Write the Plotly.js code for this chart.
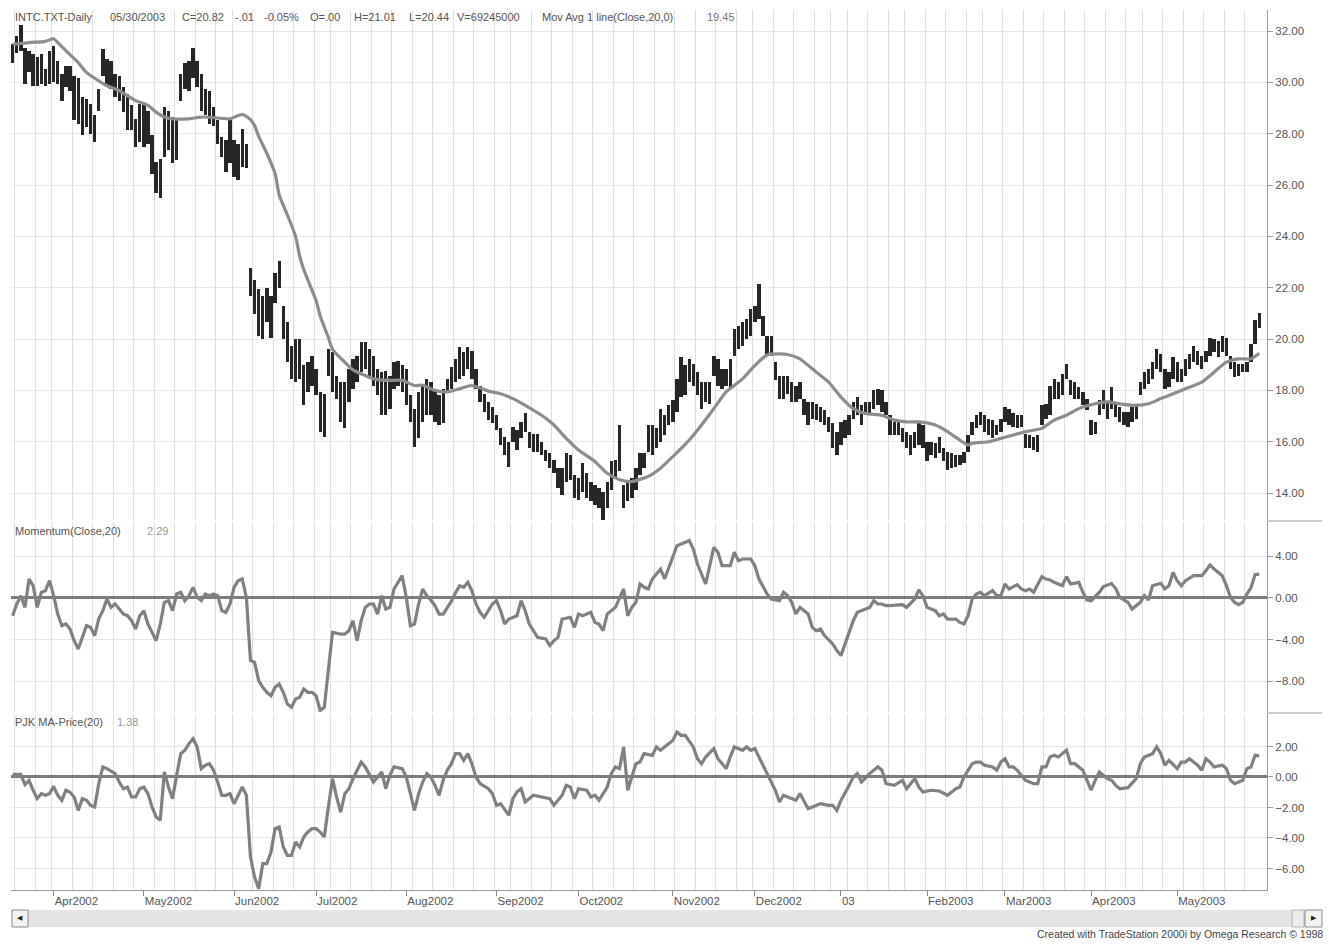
<!DOCTYPE html>
<html>
<head>
<meta charset="utf-8">
<script src="https://cdn.plot.ly/plotly-3.0.1.min.js"></script>
<style>
  html, body { margin: 0; padding: 0; background: #ffffff; }
  #chart { width: 1329px; height: 946px; }
</style>
</head>
<body>
<div id="chart"></div>
<script>
// ---------------- DATA ----------------
// Daily bars INTC, 15 Mar 2002 .. 30 May 2003 (trading day index 0..304)
const highs = [
  31.48, 31.81, 32.25, 31.35, 31.23, 31.10, 30.97, 31.10, 30.52, 31.23,
  31.42, 30.84, 30.32, 30.65, 30.65, 30.26, 30.19, 29.42, 29.35, 29.16,
  28.71, 29.74, 31.29, 30.90, 30.84, 30.32, 30.26, 29.81, 29.55, 29.10,
  28.58, 29.16, 29.10, 28.90, 27.94, 26.90, 27.03, 29.03, 28.90, 28.65,
  28.58, 30.32, 30.77, 30.84, 31.35, 30.84, 30.32, 29.74, 29.68, 29.03,
  28.52, 27.87, 27.74, 28.52, 27.74, 27.61, 28.19, 27.61, 22.77, 22.32,
  21.94, 21.68, 22.00, 21.68, 22.58, 23.03, 21.29, 20.65, 19.74, 20.00,
  20.00, 18.97, 19.10, 19.35, 18.84, 17.94, 17.87, 19.61, 19.48, 18.58,
  18.32, 18.32, 18.84, 19.23, 19.35, 19.87, 19.87, 19.61, 19.35, 18.84,
  18.71, 18.77, 18.58, 19.10, 19.16, 18.97, 18.84, 17.81, 17.29, 17.94,
  18.19, 18.45, 18.32, 18.06, 17.81, 18.06, 18.45, 18.90, 19.23, 19.68,
  19.48, 19.68, 19.55, 18.84, 18.19, 17.87, 17.55, 17.35, 17.03, 16.52,
  16.19, 16.00, 16.58, 16.45, 16.77, 17.10, 16.39, 16.32, 16.32, 16.00,
  15.68, 15.55, 15.29, 14.97, 14.97, 15.55, 15.48, 14.71, 14.58, 15.16,
  14.77, 14.45, 14.32, 14.19, 14.06, 14.45, 15.23, 15.29, 16.65, 14.32,
  14.45, 14.58, 14.97, 15.55, 15.55, 16.65, 16.65, 16.52, 17.29, 17.03,
  17.42, 17.61, 18.45, 19.29, 18.97, 19.23, 19.03, 18.71, 18.32, 18.32,
  18.32, 19.35, 19.23, 18.84, 18.84, 19.23, 20.39, 20.52, 20.65, 20.77,
  21.16, 21.29, 22.13, 20.90, 20.13, 20.13, 19.10, 18.58, 18.58, 18.58,
  18.32, 18.19, 18.32, 17.68, 17.55, 17.55, 17.48, 17.35, 17.23, 16.97,
  16.71, 16.39, 16.77, 16.84, 17.03, 17.55, 17.74, 17.42, 17.55, 17.55,
  18.00, 18.06, 18.00, 17.55, 17.03, 16.77, 16.77, 16.52, 16.39, 16.26,
  16.39, 16.77, 16.65, 16.00, 16.00, 15.94, 16.19, 15.74, 15.61, 15.55,
  15.48, 15.48, 15.61, 16.26, 16.77, 17.03, 17.16, 17.03, 16.90, 16.84,
  16.65, 16.90, 17.35, 17.29, 17.10, 17.03, 17.03, 16.32, 16.26, 16.19,
  16.26, 17.42, 17.48, 18.19, 18.45, 18.32, 18.65, 19.03, 18.39, 18.32,
  18.13, 17.94, 17.68, 16.84, 16.77, 17.61, 18.00, 17.55, 18.13, 17.48,
  17.35, 17.16, 17.16, 17.35, 17.42, 18.32, 18.71, 18.84, 19.10, 19.61,
  19.42, 18.84, 18.71, 19.29, 19.10, 18.84, 19.23, 19.42, 19.74, 19.55,
  19.35, 19.55, 20.06, 20.00, 19.94, 20.13, 20.06, 19.35, 19.10, 19.03,
  19.03, 19.10, 19.81, 20.75, 21.01
];
const lows = [
  30.77, 31.16, 31.23, 29.94, 30.39, 29.87, 29.87, 29.94, 29.87, 29.94,
  30.00, 29.94, 29.29, 29.81, 29.68, 28.52, 28.39, 27.94, 28.26, 28.00,
  27.68, 28.90, 30.26, 29.87, 29.74, 29.42, 29.29, 28.84, 28.13, 28.13,
  27.48, 27.68, 27.48, 27.61, 26.45, 25.68, 25.48, 27.10, 27.35, 26.84,
  26.97, 29.29, 29.74, 29.68, 30.19, 29.81, 28.90, 28.71, 28.39, 28.32,
  27.61, 27.10, 26.52, 26.84, 26.32, 26.19, 26.71, 26.65, 21.68, 20.97,
  20.13, 20.00, 20.65, 20.06, 21.42, 22.00, 20.00, 19.10, 18.45, 18.32,
  18.45, 17.42, 17.94, 18.19, 17.81, 16.39, 16.19, 18.58, 17.94, 17.68,
  16.77, 16.52, 17.55, 18.06, 18.32, 18.71, 18.84, 18.58, 18.19, 17.81,
  17.03, 17.03, 17.29, 18.06, 18.19, 17.94, 17.42, 16.77, 15.81, 16.13,
  16.77, 17.03, 17.03, 16.77, 16.65, 16.71, 17.94, 18.06, 18.32, 18.45,
  18.58, 18.84, 18.45, 18.06, 17.55, 17.16, 16.84, 16.71, 16.45, 15.87,
  15.48, 15.03, 16.00, 15.68, 16.13, 16.39, 15.74, 15.61, 15.61, 15.48,
  15.23, 14.97, 14.77, 14.19, 13.94, 14.45, 14.52, 13.81, 13.74, 14.06,
  13.81, 13.68, 13.55, 13.42, 12.95, 13.42, 14.13, 14.58, 14.84, 13.42,
  13.68, 13.81, 14.13, 14.71, 14.97, 15.61, 15.48, 15.74, 16.00, 16.26,
  16.65, 16.77, 17.16, 17.74, 17.81, 18.32, 18.19, 17.81, 17.29, 17.55,
  17.48, 18.58, 18.19, 18.06, 18.19, 18.06, 19.35, 19.61, 19.74, 20.00,
  20.13, 20.65, 20.77, 20.13, 19.35, 19.35, 18.39, 17.68, 17.68, 17.87,
  17.55, 17.55, 17.68, 17.03, 16.65, 16.90, 16.84, 16.77, 16.65, 16.39,
  15.74, 15.48, 15.87, 16.13, 16.26, 16.90, 17.03, 16.65, 17.03, 17.03,
  17.29, 17.42, 17.16, 17.03, 16.26, 16.26, 16.26, 16.00, 15.74, 15.48,
  15.74, 15.87, 15.74, 15.23, 15.48, 15.35, 15.55, 15.23, 14.90, 14.97,
  15.03, 15.10, 15.16, 15.61, 16.26, 16.52, 16.65, 16.39, 16.26, 16.13,
  16.26, 16.39, 16.77, 16.65, 16.58, 16.52, 16.58, 15.74, 15.74, 15.68,
  15.61, 16.65, 16.90, 17.03, 17.68, 17.68, 17.81, 18.45, 17.81, 17.68,
  17.68, 17.42, 17.23, 16.26, 16.32, 17.03, 17.29, 16.90, 17.29, 16.97,
  16.77, 16.65, 16.58, 16.77, 16.90, 17.81, 18.06, 18.26, 18.45, 18.84,
  18.71, 18.06, 18.13, 18.45, 18.32, 18.32, 18.58, 18.84, 19.10, 18.97,
  18.84, 19.10, 19.35, 19.48, 19.29, 19.48, 19.35, 18.84, 18.52, 18.58,
  18.71, 18.71, 19.10, 19.80, 20.44
];

// Mov Avg 1 line (Close,20): trading-day index / value
const maDay = [0, 4, 8, 10, 11, 13, 16, 18, 21, 23, 26, 28, 30, 33, 35, 37, 39, 43, 46, 51, 53, 56, 58, 59, 60, 62, 64, 65, 67, 69, 70, 71, 72, 74, 75, 77, 78, 81, 83, 86, 88, 91, 95, 98, 100, 103, 106, 109, 112, 116, 119, 122, 125, 129, 132, 135, 138, 142, 145, 148, 151, 155, 158, 161, 165, 168, 171, 174, 178, 181, 184, 187, 189, 192, 195, 199, 202, 205, 208, 212, 215, 218, 221, 225, 228, 231, 233, 234, 238, 241, 244, 247, 251, 254, 257, 260, 264, 267, 270, 273, 277, 280, 283, 286, 290, 293, 296, 299, 302, 304];
const maVal = [31.48, 31.55, 31.60, 31.70, 31.55, 31.23, 30.77, 30.39, 30.06, 29.87, 29.68, 29.48, 29.29, 29.10, 28.84, 28.65, 28.58, 28.58, 28.65, 28.60, 28.58, 28.75, 28.55, 28.32, 27.90, 27.23, 26.45, 25.61, 24.84, 24.00, 23.23, 22.70, 22.30, 21.50, 20.90, 20.06, 19.60, 19.10, 18.80, 18.58, 18.45, 18.39, 18.39, 18.19, 18.20, 18.00, 17.94, 18.06, 18.19, 17.97, 17.87, 17.68, 17.42, 17.03, 16.65, 16.13, 15.68, 15.23, 14.77, 14.52, 14.45, 14.65, 14.97, 15.42, 16.06, 16.65, 17.29, 17.94, 18.45, 18.97, 19.38, 19.42, 19.40, 19.23, 18.84, 18.32, 17.74, 17.29, 17.10, 17.03, 16.84, 16.77, 16.77, 16.65, 16.39, 16.06, 15.87, 15.94, 16.00, 16.13, 16.26, 16.39, 16.52, 16.84, 17.03, 17.29, 17.48, 17.55, 17.48, 17.42, 17.48, 17.68, 17.87, 18.06, 18.32, 18.71, 19.10, 19.23, 19.23, 19.45];

// Momentum(Close,20)
const momDay = [0, 1, 2, 3, 4, 5, 6, 7, 8, 9, 10, 11, 12, 13, 14, 15, 16, 17, 18, 19, 20, 21, 22, 23, 24, 25, 27, 28, 29, 30, 31, 32, 33, 34, 35, 36, 37, 38, 39, 40, 41, 42, 43, 44, 45, 46, 47, 48, 49, 50, 51, 52, 53, 54, 55, 56, 57, 58, 59, 60, 61, 62, 63, 64, 65, 66, 67, 68, 69, 70, 71, 72, 73, 74, 75, 76, 77, 78, 80, 81, 82, 83, 84, 85, 86, 87, 88, 89, 90, 91, 92, 93, 95, 96, 97, 98, 99, 100, 101, 102, 103, 104, 105, 106, 107, 108, 109, 110, 111, 112, 113, 114, 115, 117, 118, 119, 120, 121, 123, 124, 125, 126, 127, 128, 130, 131, 132, 133, 134, 136, 137, 138, 139, 141, 142, 143, 144, 145, 147, 148, 149, 150, 151, 152, 153, 154, 155, 156, 158, 159, 160, 161, 162, 163, 165, 166, 167, 169, 170, 171, 172, 173, 175, 176, 177, 178, 180, 181, 182, 184, 185, 187, 188, 189, 190, 191, 192, 194, 195, 196, 197, 198, 200, 201, 202, 203, 204, 205, 206, 208, 209, 210, 211, 212, 213, 214, 216, 217, 218, 220, 221, 222, 223, 225, 226, 227, 228, 230, 231, 232, 233, 234, 235, 236, 237, 239, 240, 241, 242, 243, 245, 246, 247, 248, 249, 251, 252, 253, 254, 256, 257, 258, 260, 261, 262, 263, 265, 266, 268, 269, 270, 272, 273, 275, 276, 277, 278, 280, 281, 282, 283, 284, 285, 286, 288, 290, 291, 292, 293, 295, 296, 297, 298, 299, 300, 301, 302, 303, 304];
const momVal = [-1.70, -0.58, 0.22, -0.90, 1.82, 1.18, -0.90, 0.54, 0.70, 1.66, 0.22, -1.54, -2.66, -2.50, -2.98, -4.10, -4.90, -3.78, -2.66, -2.82, -3.62, -2.00, -1.22, -0.10, -0.90, -0.58, -1.54, -1.70, -2.18, -2.98, -1.70, -1.22, -2.50, -3.30, -4.10, -2.50, -0.42, -0.26, -1.22, 0.38, 0.54, -0.26, 0.22, 1.02, 0.06, -0.26, 0.38, 0.22, 0.38, 0.22, -1.22, -1.38, -0.58, 1.02, 1.66, 1.82, 0.06, -6.00, -6.17, -7.93, -8.57, -9.05, -9.37, -8.57, -8.25, -9.05, -10.17, -10.49, -9.69, -9.53, -8.73, -9.05, -9.05, -9.37, -10.80, -10.49, -6.65, -3.30, -3.46, -3.46, -3.14, -2.18, -4.10, -2.18, -0.90, -0.58, -0.58, -1.54, 0.22, -1.06, -0.90, 0.86, 2.14, 0.06, -2.66, -2.50, -0.58, 0.86, 0.22, -0.20, -0.74, -1.54, -1.54, -0.90, -0.30, 0.50, 1.18, 1.02, 1.50, 0.70, -0.58, -1.38, -1.86, -0.58, -0.26, -1.22, -2.50, -2.02, -1.70, -0.26, -1.22, -2.50, -3.14, -3.78, -3.93, -4.57, -4.10, -3.78, -2.02, -1.86, -2.82, -1.54, -1.70, -1.38, -2.34, -2.50, -3.14, -1.54, -0.90, -0.10, 0.86, -1.70, -0.90, -0.42, 1.34, 1.02, 0.86, 1.82, 2.78, 1.82, 2.94, 4.06, 5.02, 5.18, 5.50, 4.70, 3.26, 1.34, 3.26, 4.86, 4.38, 3.10, 3.10, 4.38, 3.58, 3.74, 3.74, 3.10, 1.82, 0.38, -0.10, -0.26, 0.54, 0.22, -0.42, -1.54, -0.90, -1.54, -2.82, -3.14, -2.98, -3.61, -4.41, -5.05, -5.53, -4.41, -3.45, -2.18, -1.38, -1.06, -0.90, -0.26, -0.58, -0.58, -0.74, -0.74, -0.70, -0.64, -0.90, -0.10, 0.77, 0.22, -0.90, -1.22, -1.70, -1.54, -2.02, -2.02, -2.34, -2.50, -1.70, -0.10, 0.38, 0.54, 0.22, 0.70, 0.22, 0.22, 1.34, 0.86, 1.28, 0.86, 0.70, 0.86, 0.54, 2.05, 1.82, 1.73, 1.50, 1.18, 2.05, 1.34, 1.50, 0.54, -0.19, -0.26, 0.54, 1.09, 1.38, 0.90, 0.05, -0.42, -1.06, -0.42, 0.22, -0.19, 1.18, 1.41, 0.86, 1.18, 2.46, 1.66, 1.18, 1.66, 2.14, 2.14, 2.62, 3.17, 2.78, 2.14, 1.18, 0.06, -0.42, -0.64, -0.42, 0.38, 1.00, 2.24, 2.29];

// PJK MA-Price(20)
const mapDay = [0, 2, 3, 4, 5, 6, 7, 8, 9, 10, 11, 12, 13, 14, 15, 16, 17, 18, 19, 20, 21, 22, 23, 25, 26, 27, 28, 29, 30, 31, 32, 33, 34, 35, 36, 37, 38, 39, 40, 41, 42, 43, 44, 45, 46, 47, 48, 49, 50, 51, 52, 53, 54, 55, 56, 57, 58, 59, 60, 61, 62, 63, 64, 65, 66, 67, 68, 69, 70, 71, 72, 73, 74, 75, 76, 77, 78, 79, 80, 81, 82, 83, 84, 85, 86, 87, 88, 90, 91, 92, 93, 95, 96, 97, 98, 99, 100, 101, 102, 103, 104, 105, 106, 107, 108, 109, 110, 111, 112, 113, 114, 116, 117, 118, 119, 121, 122, 123, 124, 125, 127, 129, 131, 132, 134, 135, 136, 137, 138, 140, 141, 142, 143, 145, 146, 147, 148, 149, 150, 151, 152, 153, 154, 156, 157, 158, 160, 161, 162, 163, 164, 166, 167, 168, 169, 171, 172, 174, 175, 176, 178, 179, 180, 181, 182, 184, 186, 187, 188, 189, 191, 192, 193, 194, 195, 197, 199, 200, 201, 202, 204, 205, 206, 207, 209, 211, 212, 213, 215, 217, 218, 219, 220, 221, 222, 224, 226, 228, 229, 230, 231, 232, 234, 235, 236, 237, 239, 240, 241, 242, 243, 244, 245, 247, 249, 250, 251, 252, 253, 254, 255, 257, 258, 259, 261, 262, 263, 264, 265, 267, 268, 269, 270, 272, 273, 274, 275, 276, 278, 279, 280, 281, 282, 284, 285, 286, 287, 289, 290, 291, 292, 293, 295, 296, 297, 298, 299, 300, 301, 302, 303, 304];
const mapVal = [0.17, 0.17, -0.50, -0.22, -0.87, -1.42, -1.09, -1.20, -1.09, -0.61, -1.20, -1.53, -0.87, -1.00, -1.31, -2.19, -1.42, -1.53, -1.86, -1.97, -0.44, 0.66, 0.55, 0.22, -0.33, -0.77, -0.66, -1.31, -1.31, -0.77, -0.66, -1.09, -1.97, -2.62, -2.84, 0.33, -0.66, -1.42, 0.11, 1.53, 1.75, 2.19, 2.51, 1.97, 0.55, 0.77, 0.87, 0.44, -0.33, -1.20, -1.20, -1.09, -1.75, -1.20, -0.66, -1.20, -5.25, -6.56, -7.32, -5.68, -5.68, -4.92, -3.39, -3.28, -4.59, -5.14, -5.14, -4.26, -4.59, -3.93, -3.60, -3.39, -3.39, -3.61, -3.93, -1.97, -0.11, -1.31, -2.30, -1.09, -0.77, -0.11, 0.44, 0.98, 0.66, 0.11, -0.33, 0.33, -0.77, 0.11, 0.66, 0.55, 0.00, -1.09, -2.19, -1.09, -0.33, 0.22, 0.00, -0.55, -1.20, -0.20, 0.44, 0.87, 1.53, 1.53, 1.09, 1.53, 0.87, 0.00, -0.44, -0.77, -1.09, -1.86, -1.75, -2.51, -1.42, -0.98, -0.77, -1.64, -1.20, -1.31, -1.42, -1.86, -1.20, -0.55, -0.66, -1.42, -0.77, -0.87, -1.31, -1.20, -1.53, -0.66, 0.22, 0.66, 0.55, 1.97, -0.87, 0.00, 0.87, 0.98, 1.53, 1.42, 1.97, 1.75, 2.19, 2.40, 2.95, 2.73, 2.73, 1.97, 1.20, 0.87, 1.31, 1.86, 1.20, 0.55, 1.31, 1.97, 1.75, 1.97, 1.75, 1.86, 1.31, 0.22, -0.87, -1.64, -1.20, -1.31, -1.53, -1.09, -1.64, -2.08, -1.97, -1.75, -1.86, -1.86, -2.19, -1.53, -0.55, 0.00, 0.22, -0.33, 0.22, 0.66, 0.44, -0.44, -0.55, -0.22, -0.77, -0.44, -0.11, -0.66, -0.98, -0.87, -0.92, -1.20, -0.98, -0.77, -0.66, 0.00, 0.87, 0.98, 0.98, 0.77, 0.66, 0.44, 0.98, 1.20, 0.66, 0.66, 0.44, -0.22, -0.44, -0.44, 0.66, 0.66, 1.31, 1.42, 1.31, 1.75, 0.87, 0.87, 0.44, -0.22, -0.87, -0.22, 0.33, -0.11, -0.22, -0.55, -0.77, -0.70, -0.44, -0.11, 0.87, 1.31, 1.53, 1.97, 1.53, 0.77, 1.09, 0.55, 0.98, 0.98, 1.20, 0.77, 0.44, 1.20, 0.98, 0.66, 0.77, 0.55, -0.22, -0.44, -0.33, -0.22, 0.55, 0.66, 1.42, 1.38];

// Month tick labels (first trading day of each month, Apr 2002 .. May 2003)
const tickLabels = ['Apr2002', 'May2002', 'Jun2002', 'Jul2002', 'Aug2002', 'Sep2002', 'Oct2002', 'Nov2002', 'Dec2002', '03', 'Feb2003', 'Mar2003', 'Apr2003', 'May2003'];
// Scale labels of each panel
const priceTicks = [14, 16, 18, 20, 22, 24, 26, 28, 30, 32];
const momTicks = [-8, -4, 0, 4];
const mapTicks = [-6, -4, -2, 0, 2];
const holidays = ['2002-03-29', '2002-05-27', '2002-07-04', '2002-09-02', '2002-11-28', '2002-12-25', '2003-01-01', '2003-01-20', '2003-02-17', '2003-04-18', '2003-05-26'];
const firstDate = '2002-03-15';

// ---------------- TRADING CALENDAR ----------------
const dates = [];
{
  let d = new Date(firstDate + 'T00:00:00Z');
  while (dates.length < highs.length) {
    const wd = d.getUTCDay();
    const iso = d.toISOString().slice(0, 10);
    if (wd !== 0 && wd !== 6 && holidays.indexOf(iso) < 0) dates.push(new Date(d));
    d = new Date(d.getTime() + 86400000);
  }
}
const days = dates.map((_, i) => i);
const monthIdx = [];
const weekLines = [];
for (let i = 1; i < dates.length; i++) {
  if (dates[i].getUTCMonth() !== dates[i - 1].getUTCMonth()) monthIdx.push(i);
  if (dates[i].getUTCDay() <= dates[i - 1].getUTCDay() || (dates[i] - dates[i - 1]) > 3 * 86400000) weekLines.push(i - 0.5);
}

// ---------------- PIXEL HELPERS (layout only) ----------------
const W = 1329, H = 946, ML = 11, MR = 62, MT = 10, MB = 56;
const PW = W - ML - MR, PH = H - MT - MB;
const px = x => (x - ML) / PW;
const py = y => (H - MB - y) / PH;

const textCol = '#555555';
const lightCol = '#9a9a9a';
const FONT = 'Liberation Sans, Arial, Helvetica, sans-serif';

// ---------------- TRACES ----------------
const traces = [
  {
    type: 'bar', x: days, base: lows, y: highs.map((h, i) => h - lows[i]),
    width: 0.82, marker: { color: '#262626', line: { width: 0 } },
    xaxis: 'x', yaxis: 'y', hoverinfo: 'skip'
  },
  {
    type: 'scatter', mode: 'lines', x: maDay, y: maVal,
    line: { color: '#8c8c8c', width: 3.2, shape: 'spline', smoothing: 0.6 },
    xaxis: 'x', yaxis: 'y', hoverinfo: 'skip'
  },
  {
    type: 'scatter', mode: 'lines', x: momDay, y: momVal,
    line: { color: '#808080', width: 3.2 },
    xaxis: 'x', yaxis: 'y2', hoverinfo: 'skip'
  },
  {
    type: 'scatter', mode: 'lines', x: mapDay, y: mapVal,
    line: { color: '#808080', width: 3.2 },
    xaxis: 'x', yaxis: 'y3', hoverinfo: 'skip'
  }
];

// ---------------- AXES ----------------
const yCommon = {
  side: 'right', anchor: 'x', tickformat: '.2f', tickmode: 'array',
  ticks: 'outside', ticklen: 5, tickcolor: '#999', tickwidth: 1,
  showline: true, linecolor: '#9a9a9a', linewidth: 1,
  gridcolor: '#e6e6e6', gridwidth: 1,
  tickfont: { family: FONT, size: 11.5, color: textCol },
  fixedrange: true
};

const header = [
  ['INTC.TXT-Daily', 13], ['05/30/2003', 108], ['C=20.82', 180], ['-.01', 233], ['-0.05%', 262],
  ['O=.00', 308], ['H=21.01', 352], ['L=20.44', 407], ['V=69245000', 455], ['Mov Avg 1 line(Close,20,0)', 540]
];
const annotations = header.map(([t, x]) => ({
  text: t, xref: 'paper', yref: 'paper', x: px(x), y: py(17), xanchor: 'left', yanchor: 'middle',
  showarrow: false, font: { family: FONT, size: 11, color: textCol }
}));
annotations.push(
  { text: '19.45', xref: 'paper', yref: 'paper', x: px(705), y: py(17), xanchor: 'left', yanchor: 'middle', showarrow: false, font: { family: FONT, size: 11, color: '#777' } },
  { text: 'Momentum(Close,20)', xref: 'paper', yref: 'paper', x: px(13), y: py(531), xanchor: 'left', yanchor: 'middle', showarrow: false, font: { family: FONT, size: 11, color: textCol } },
  { text: '2.29', xref: 'paper', yref: 'paper', x: px(145), y: py(531), xanchor: 'left', yanchor: 'middle', showarrow: false, font: { family: FONT, size: 11, color: lightCol } },
  { text: 'PJK MA-Price(20)', xref: 'paper', yref: 'paper', x: px(13), y: py(722), xanchor: 'left', yanchor: 'middle', showarrow: false, font: { family: FONT, size: 11, color: textCol } },
  { text: '1.38', xref: 'paper', yref: 'paper', x: px(115), y: py(722), xanchor: 'left', yanchor: 'middle', showarrow: false, font: { family: FONT, size: 11, color: lightCol } },
  { text: 'Created with TradeStation 2000i by Omega Research \u00a9 1998', xref: 'paper', yref: 'paper', x: px(1325), y: py(934), xanchor: 'right', yanchor: 'middle', showarrow: false, font: { family: FONT, size: 10.5, color: '#444' } },
  { text: '\u25C0', xref: 'paper', yref: 'paper', x: px(20), y: py(918), xanchor: 'center', yanchor: 'middle', showarrow: false, font: { family: FONT, size: 7, color: '#222' } },
  { text: '\u25B6', xref: 'paper', yref: 'paper', x: px(1314), y: py(918), xanchor: 'center', yanchor: 'middle', showarrow: false, font: { family: FONT, size: 7, color: '#222' } }
);

const shapes = [
  // panel separators in the scale area
  { type: 'line', xref: 'paper', yref: 'paper', x0: 1, x1: px(1322), y0: py(521), y1: py(521), line: { color: '#9a9a9a', width: 1 } },
  { type: 'line', xref: 'paper', yref: 'paper', x0: 1, x1: px(1322), y0: py(713), y1: py(713), line: { color: '#9a9a9a', width: 1 } },
  // scrollbar
  { type: 'rect', xref: 'paper', yref: 'paper', x0: px(12), x1: px(1322), y0: py(927), y1: py(910), fillcolor: '#e4e4e4', line: { width: 0 } },
  { type: 'rect', xref: 'paper', yref: 'paper', x0: px(12), x1: px(28), y0: py(927), y1: py(910), fillcolor: '#f2f2f2', line: { color: '#8a8a8a', width: 1 } },
  { type: 'rect', xref: 'paper', yref: 'paper', x0: px(1292), x1: px(1304), y0: py(927), y1: py(910), fillcolor: '#ececec', line: { color: '#b0b0b0', width: 1 } },
  { type: 'rect', xref: 'paper', yref: 'paper', x0: px(1305), x1: px(1322), y0: py(927), y1: py(910), fillcolor: '#f2f2f2', line: { color: '#8a8a8a', width: 1 } }
];

const layout = {
  width: W, height: H,
  margin: { l: ML, r: MR, t: MT, b: MB, pad: 0 },
  paper_bgcolor: '#ffffff', plot_bgcolor: '#ffffff',
  showlegend: false, hovermode: false, bargap: 0,
  font: { family: FONT, size: 11, color: textCol },
  xaxis: {
    type: 'linear', range: [-0.4, 305.9], anchor: 'y3',
    tickmode: 'array', tickvals: monthIdx, ticktext: tickLabels,
    ticks: 'outside', ticklen: 5, tickcolor: '#888', tickwidth: 1,
    ticklabelposition: 'outside right',
    tickfont: { family: FONT, size: 11.5, color: textCol },
    showgrid: false, zeroline: false,
    showline: true, linecolor: '#9a9a9a', linewidth: 1,
    minor: { tickmode: 'array', tickvals: weekLines, showgrid: true, gridcolor: '#dedede', gridwidth: 1, ticks: '' },
    fixedrange: true
  },
  yaxis: Object.assign({}, yCommon, {
    domain: [py(520), 1], range: [12.95, 32.82], tickvals: priceTicks, zeroline: false
  }),
  yaxis2: Object.assign({}, yCommon, {
    domain: [py(712), py(522)], range: [-10.94, 7.29], tickvals: momTicks,
    zeroline: true, zerolinecolor: '#7c7c7c', zerolinewidth: 3
  }),
  yaxis3: Object.assign({}, yCommon, {
    domain: [0, py(714)], range: [-7.41, 4.13], tickvals: mapTicks,
    zeroline: true, zerolinecolor: '#7c7c7c', zerolinewidth: 3
  }),
  annotations: annotations,
  shapes: shapes
};

Plotly.newPlot('chart', traces, layout, { displayModeBar: false, staticPlot: true });
</script>
</body>
</html>
